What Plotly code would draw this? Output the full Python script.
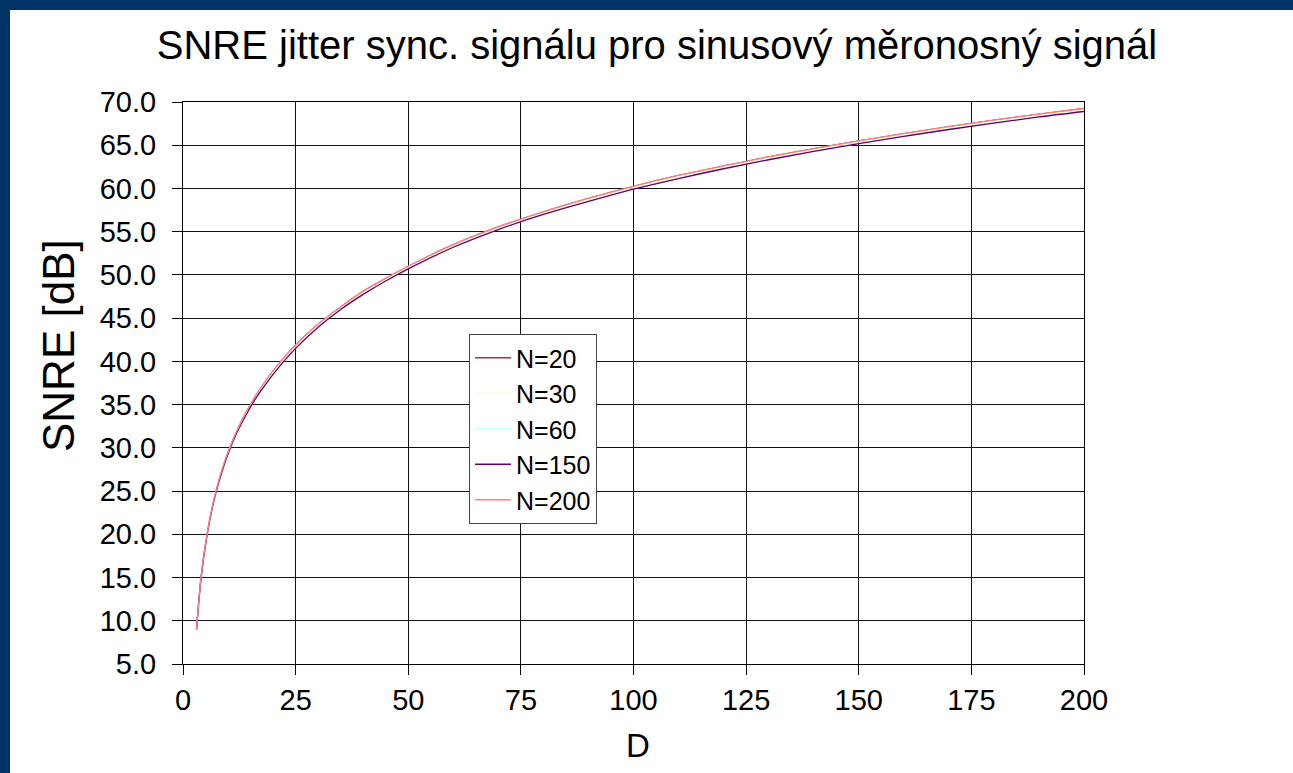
import plotly.graph_objects as go

# D values (x axis)
D = [3, 4, 5, 6, 7, 8, 9, 10, 12, 14, 16, 18, 20, 25, 30, 35, 40, 45, 50,
     60, 70, 80, 90, 100, 110, 120, 130, 140, 150, 160, 170, 180, 190, 200]

# SNRE [dB] per series
snre_n20 = [9.0, 15.0, 18.9, 21.9, 24.3, 26.3, 28.0, 29.5, 32.0, 34.1, 35.9, 37.5, 38.9,
            41.9, 44.3, 46.3, 48.1, 49.6, 51.0, 53.5, 55.55, 57.3, 58.85, 60.25,
            61.5, 62.6, 63.65, 64.6, 65.5, 66.35, 67.15, 67.9, 68.6, 69.25]
snre_n30 = [9.0, 15.0, 18.9, 21.9, 24.3, 26.2, 27.9, 29.4, 31.9, 34.0, 35.8, 37.4, 38.8,
            41.8, 44.2, 46.2, 48.0, 49.5, 50.9, 53.4, 55.45, 57.2, 58.75, 60.15,
            61.4, 62.5, 63.55, 64.5, 65.4, 66.25, 67.05, 67.8, 68.5, 69.15]
snre_n60 = [9.0, 14.9, 18.8, 21.8, 24.2, 26.1, 27.8, 29.3, 31.8, 33.85, 35.65, 37.15, 38.55,
            41.55, 44.0, 46.05, 47.8, 49.35, 50.75, 53.25, 55.3, 57.05, 58.55, 59.97,
            61.2, 62.33, 63.37, 64.33, 65.23, 66.07, 66.87, 67.61, 68.32, 68.95]
snre_n150 = [9.0, 14.9, 18.8, 21.8, 24.2, 26.1, 27.8, 29.3, 31.8, 33.8, 35.6, 37.1, 38.5,
             41.5, 43.95, 46.0, 47.75, 49.3, 50.7, 53.2, 55.25, 57.0, 58.5, 59.92,
             61.15, 62.28, 63.32, 64.28, 65.18, 66.02, 66.82, 67.56, 68.27, 68.9]
snre_n200 = [9.0, 15.0, 18.9, 21.9, 24.3, 26.3, 28.0, 29.5, 32.0, 34.1, 35.9, 37.5, 38.9,
             41.9, 44.3, 46.3, 48.1, 49.6, 51.0, 53.5, 55.55, 57.3, 58.85, 60.25,
             61.5, 62.6, 63.65, 64.6, 65.5, 66.35, 67.15, 67.9, 68.6, 69.25]

series_names = ["N=20", "N=30", "N=60", "N=150", "N=200"]
series_values = [snre_n20, snre_n30, snre_n60, snre_n150, snre_n200]
series_colors = ["#993366", "#FFFFCC", "#CCFFFF", "#660066", "#FF8080"]

x_ticks = [0, 25, 50, 75, 100, 125, 150, 175, 200]
y_ticks = [5, 10, 15, 20, 25, 30, 35, 40, 45, 50, 55, 60, 65, 70]

FONT = "Liberation Sans, Arial, sans-serif"

fig = go.Figure()
for name, vals, col in zip(series_names, series_values, series_colors):
    fig.add_trace(go.Scatter(x=D, y=vals, mode="lines", name=name,
                             line=dict(color=col, width=1.3), line_shape="spline"))

W, H = 1293, 773
L, R, T, B = 183, 209, 102, 109
pw, ph = W - L - R, H - T - B

def px_x(p):
    return (p - L) / pw

def px_y(p):
    return 1 - (p - T) / ph

# dark blue frame strips on the left and the top
fig.add_shape(type="rect", xref="paper", yref="paper", layer="below",
              x0=px_x(0), x1=px_x(10), y0=px_y(H), y1=px_y(0),
              fillcolor="#003366", line=dict(width=0))
fig.add_shape(type="rect", xref="paper", yref="paper", layer="below",
              x0=px_x(0), x1=px_x(W), y0=px_y(10), y1=px_y(0),
              fillcolor="#003366", line=dict(width=0))

# axis titles
fig.add_annotation(text="SNRE [dB]", xref="paper", yref="paper",
                   x=px_x(58), y=px_y(346), xanchor="center", yanchor="middle",
                   textangle=-90, showarrow=False,
                   font=dict(family=FONT, size=44, color="black"))
fig.add_annotation(text="D", xref="paper", yref="paper",
                   x=px_x(638), y=px_y(745), xanchor="center", yanchor="middle",
                   showarrow=False,
                   font=dict(family=FONT, size=33, color="black"))

axis_common = dict(showline=True, linecolor="black", linewidth=1, mirror=True,
                   showgrid=True, gridcolor="#111111", gridwidth=1,
                   ticks="outside", ticklen=10, tickcolor="black", tickwidth=1,
                   zeroline=False,
                   tickfont=dict(family=FONT, size=29, color="black"))

fig.update_layout(
    width=W, height=H,
    margin=dict(l=L, r=R, t=T, b=B),
    paper_bgcolor="white", plot_bgcolor="white",
    title=dict(text="SNRE jitter sync. signálu pro sinusový měronosný signál",
               font=dict(family=FONT, size=40, color="black"),
               x=657 / W, xanchor="center",
               y=1 - 45 / H, yanchor="middle", yref="container"),
    xaxis=dict(range=[0, 200], tickvals=x_ticks, ticktext=[str(v) for v in x_ticks],
               ticklabelstandoff=0, **axis_common),
    yaxis=dict(range=[5, 70], tickvals=y_ticks, ticktext=[f"{v:.1f}" for v in y_ticks],
               ticklabelstandoff=10, **axis_common),
    legend=dict(x=px_x(469), y=px_y(334), xanchor="left", yanchor="top",
                bgcolor="white", bordercolor="#444444", borderwidth=1,
                font=dict(family=FONT, size=25, color="black"),
                itemwidth=36, tracegroupgap=0),
    showlegend=True,
)

fig.write_html("out.html")
